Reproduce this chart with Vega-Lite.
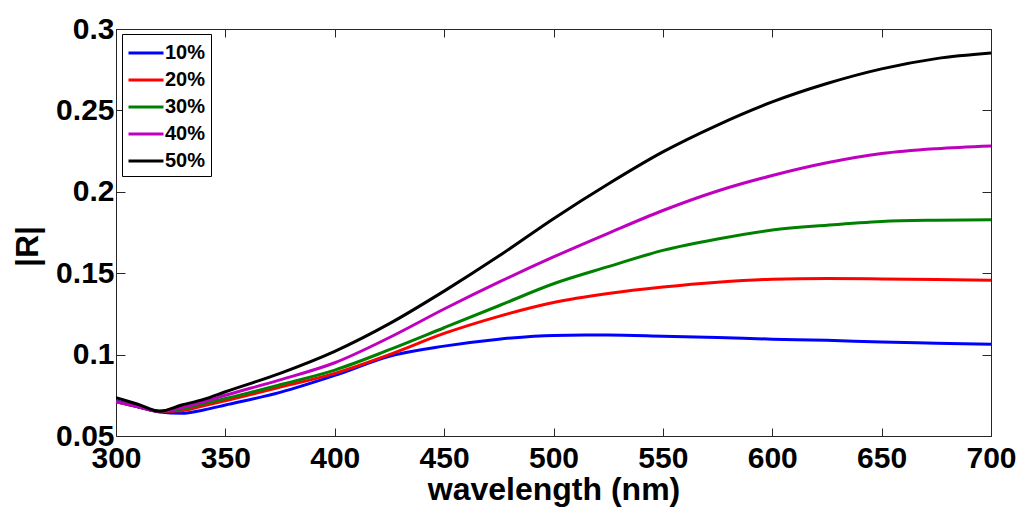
{
  "$schema": "https://vega.github.io/schema/vega-lite/v6.json",
  "autosize": "none",
  "width": 875,
  "height": 407,
  "padding": {"left": 116, "top": 29, "right": 29, "bottom": 71},
  "background": "white",
  "config": {
    "font": "Liberation Sans",
    "view": {"stroke": "#262626", "strokeWidth": 1},
    "axis": {"grid": false, "domainColor": "#262626", "tickColor": "#262626", "labelColor": "black", "titleColor": "black"}
  },
  "data": {"values": [
    {"w":300,"R":0.0715,"s":"10%"},{"w":310,"R":0.068,"s":"10%"},{"w":320,"R":0.0648,"s":"10%"},{"w":330,"R":0.064,"s":"10%"},{"w":340,"R":0.066,"s":"10%"},{"w":350,"R":0.069,"s":"10%"},{"w":375,"R":0.0768,"s":"10%"},{"w":400,"R":0.0872,"s":"10%"},{"w":425,"R":0.099,"s":"10%"},{"w":450,"R":0.1052,"s":"10%"},{"w":475,"R":0.1095,"s":"10%"},{"w":500,"R":0.1118,"s":"10%"},{"w":525,"R":0.112,"s":"10%"},{"w":550,"R":0.1113,"s":"10%"},{"w":575,"R":0.1105,"s":"10%"},{"w":600,"R":0.1095,"s":"10%"},{"w":625,"R":0.1088,"s":"10%"},{"w":650,"R":0.1077,"s":"10%"},{"w":675,"R":0.107,"s":"10%"},{"w":700,"R":0.1064,"s":"10%"},
    {"w":300,"R":0.071,"s":"20%"},{"w":310,"R":0.068,"s":"20%"},{"w":320,"R":0.065,"s":"20%"},{"w":330,"R":0.0655,"s":"20%"},{"w":340,"R":0.0685,"s":"20%"},{"w":350,"R":0.0717,"s":"20%"},{"w":375,"R":0.08,"s":"20%"},{"w":400,"R":0.0885,"s":"20%"},{"w":425,"R":0.1,"s":"20%"},{"w":450,"R":0.113,"s":"20%"},{"w":475,"R":0.1235,"s":"20%"},{"w":500,"R":0.132,"s":"20%"},{"w":525,"R":0.1375,"s":"20%"},{"w":550,"R":0.1415,"s":"20%"},{"w":575,"R":0.1445,"s":"20%"},{"w":600,"R":0.1463,"s":"20%"},{"w":625,"R":0.1467,"s":"20%"},{"w":650,"R":0.1465,"s":"20%"},{"w":675,"R":0.1462,"s":"20%"},{"w":700,"R":0.1457,"s":"20%"},
    {"w":300,"R":0.071,"s":"30%"},{"w":310,"R":0.068,"s":"30%"},{"w":320,"R":0.0652,"s":"30%"},{"w":330,"R":0.0665,"s":"30%"},{"w":340,"R":0.07,"s":"30%"},{"w":350,"R":0.073,"s":"30%"},{"w":375,"R":0.0815,"s":"30%"},{"w":400,"R":0.0905,"s":"30%"},{"w":425,"R":0.103,"s":"30%"},{"w":450,"R":0.1165,"s":"30%"},{"w":475,"R":0.13,"s":"30%"},{"w":500,"R":0.1435,"s":"30%"},{"w":525,"R":0.154,"s":"30%"},{"w":550,"R":0.164,"s":"30%"},{"w":575,"R":0.171,"s":"30%"},{"w":600,"R":0.1765,"s":"30%"},{"w":625,"R":0.1795,"s":"30%"},{"w":650,"R":0.1818,"s":"30%"},{"w":675,"R":0.1826,"s":"30%"},{"w":700,"R":0.1829,"s":"30%"},
    {"w":300,"R":0.071,"s":"40%"},{"w":310,"R":0.068,"s":"40%"},{"w":320,"R":0.0652,"s":"40%"},{"w":330,"R":0.0675,"s":"40%"},{"w":340,"R":0.071,"s":"40%"},{"w":350,"R":0.075,"s":"40%"},{"w":375,"R":0.0845,"s":"40%"},{"w":400,"R":0.095,"s":"40%"},{"w":425,"R":0.1105,"s":"40%"},{"w":450,"R":0.128,"s":"40%"},{"w":475,"R":0.1445,"s":"40%"},{"w":500,"R":0.16,"s":"40%"},{"w":525,"R":0.1745,"s":"40%"},{"w":550,"R":0.1885,"s":"40%"},{"w":575,"R":0.2005,"s":"40%"},{"w":600,"R":0.21,"s":"40%"},{"w":625,"R":0.2178,"s":"40%"},{"w":650,"R":0.2235,"s":"40%"},{"w":675,"R":0.2265,"s":"40%"},{"w":700,"R":0.2282,"s":"40%"},
    {"w":300,"R":0.0735,"s":"50%"},{"w":310,"R":0.0695,"s":"50%"},{"w":320,"R":0.0652,"s":"50%"},{"w":330,"R":0.069,"s":"50%"},{"w":340,"R":0.0725,"s":"50%"},{"w":350,"R":0.0772,"s":"50%"},{"w":375,"R":0.0885,"s":"50%"},{"w":400,"R":0.102,"s":"50%"},{"w":425,"R":0.119,"s":"50%"},{"w":450,"R":0.139,"s":"50%"},{"w":475,"R":0.1605,"s":"50%"},{"w":500,"R":0.1835,"s":"50%"},{"w":525,"R":0.2048,"s":"50%"},{"w":550,"R":0.2245,"s":"50%"},{"w":575,"R":0.241,"s":"50%"},{"w":600,"R":0.2552,"s":"50%"},{"w":625,"R":0.2665,"s":"50%"},{"w":650,"R":0.2755,"s":"50%"},{"w":675,"R":0.2818,"s":"50%"},{"w":700,"R":0.2852,"s":"50%"}
  ]},
  "layer": [
    {
      "mark": {"type": "line", "strokeWidth": 3, "interpolate": "monotone", "clip": true},
      "encoding": {
        "x": {"field": "w", "type": "quantitative", "scale": {"domain": [300, 700], "nice": false, "zero": false},
          "axis": {"orient": "bottom", "values": [300,350,400,450,500,550,600,650,700], "tickSize": -8, "labelPadding": 15, "labelFontSize": 30, "labelFontWeight": "bold", "labelFlush": false, "domain": false,
            "title": "wavelength (nm)", "titleFontSize": 32, "titleFontWeight": "bold", "titleY": 63, "titleBaseline": "alphabetic"}},
        "y": {"field": "R", "type": "quantitative", "scale": {"domain": [0.05, 0.3], "nice": false, "zero": false},
          "axis": {"orient": "left", "values": [0.05,0.1,0.15,0.2,0.25,0.3], "format": ".2~f", "tickSize": -9, "labelPadding": 11, "labelFontSize": 30, "labelFontWeight": "bold", "labelFlush": false, "domain": false,
            "title": "|R|", "titleFontSize": 32, "titleFontWeight": "bold", "titleX": -89, "titleY": 217, "titleAngle": 270, "titleAlign": "center", "titleBaseline": "middle"}},
        "color": {"field": "s", "type": "nominal", "scale": {"domain": ["10%","20%","30%","40%","50%"], "range": ["#0000ff","#ff0000","#008000","#bf00bf","#000000"]},
          "legend": {"title": null, "orient": "none", "legendX": 6, "legendY": 5, "strokeColor": "black", "fillColor": "white", "padding": 5, "symbolType": "M-1.4,0L1.4,0", "symbolStrokeWidth": 3, "symbolSize": 625, "symbolOffset": 5, "labelFontSize": 20, "labelFontWeight": "bold", "labelColor": "black", "labelOffset": 5, "rowPadding": 3}}
      }
    },
    {
      "mark": {"type": "line", "strokeOpacity": 0},
      "encoding": {
        "x": {"field": "w", "type": "quantitative", "axis": {"orient": "top", "values": [300,350,400,450,500,550,600,650,700], "tickSize": -8, "labels": false, "domain": false, "title": null}},
        "y": {"field": "R", "type": "quantitative", "axis": {"orient": "right", "values": [0.05,0.1,0.15,0.2,0.25,0.3], "tickSize": -9, "labels": false, "domain": false, "title": null}},
        "detail": {"field": "s"}
      }
    }
  ],
  "resolve": {"axis": {"x": "independent", "y": "independent"}}
}
